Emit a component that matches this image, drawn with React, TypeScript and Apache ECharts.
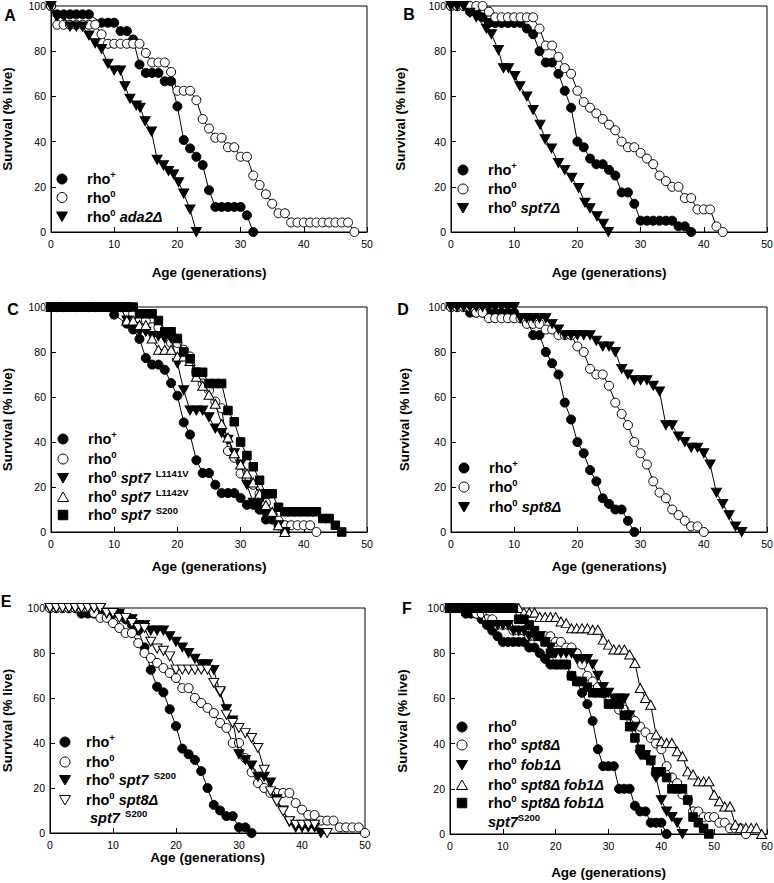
import React, { useEffect, useRef } from "react";
import * as echarts from "echarts";

const FONT = '"Liberation Sans", Arial, Helvetica, sans-serif';

// ---------- Panel A ----------
const aRhoPlus = [[0,100],[1,96.3],[2,96.3],[3,96.3],[4,96.3],[5,96.3],[6,96.3],[8,92.6],[9,92.6],[10,92.6],[11,88.9],[12,88.9],[13,85.2],[14,74.1],[15,70.4],[16,70.4],[17,70.4],[18,66.7],[19,66.7],[20,55.6],[21,40.7],[22,37],[23,33.3],[24,29.6],[25,18.5],[26,11.1],[27,11.1],[28,11.1],[29,11.1],[30,11.1],[31,7.4],[32,0]];
const aRho0 = [[0,100],[1,91.7],[2,91.7],[3,91.7],[4,91.7],[5,91.7],[6,91.7],[7,91.7],[8,87.5],[9,83.3],[10,83.3],[11,83.3],[12,83.3],[13,83.3],[14,83.3],[15,79.2],[16,75],[17,75],[18,75],[19,70.8],[20,62.5],[21,62.5],[22,62.5],[23,58.3],[24,50],[25,45.8],[26,41.7],[27,41.7],[28,37.5],[29,37.5],[30,33.3],[31,33.3],[32,25],[33,20.8],[34,16.7],[35,12.5],[36,8.3],[37,8.3],[38,4.2],[39,4.2],[40,4.2],[41,4.2],[42,4.2],[43,4.2],[44,4.2],[45,4.2],[46,4.2],[47,4.2],[48,0]];
const aAda2 = [[0,100],[1,95.5],[2,95.5],[3,90.9],[4,90.9],[5,90.9],[6,87],[7,83.5],[8,81],[9,74.5],[10,71.5],[11,71.5],[11.7,64.5],[12.5,59],[13.5,56],[14.1,55],[14.9,49],[15.9,44.5],[16.8,32],[17.8,29.5],[18.6,27],[19.4,25.5],[20.2,22],[21,17],[22,10],[23,0]];

// ---------- Panel B ----------
const bRhoPlus = [[0,100],[1,100],[2,100],[3,97.5],[4,97.5],[5,95],[6,92.5],[7,92.5],[8,92.5],[9,92.5],[10,92.5],[11,92.5],[12,90],[13,87.5],[14,80],[15,75],[16,75],[17,70],[18,62.5],[19,55],[20,40],[21,37.5],[22,32.5],[23,30],[24,30],[25,27.5],[26,25],[27,17.5],[28,17.5],[29,12.5],[30,5],[31,5],[32,5],[33,5],[34,5],[35,5],[36,2.5],[37,2.5],[38,0]];
const bRho0 = [[0,100],[1,100],[2,100],[3,100],[4,100],[5,100],[6,97.5],[7,95],[8,95],[9,95],[10,95],[11,95],[12,95],[13,95],[14,90],[15,82.5],[16,82.5],[17,77.5],[18,72.5],[19,70],[20,62.5],[21,57.5],[22,55],[23,52.5],[24,50],[25,47.5],[26,45],[27,40],[28,37.5],[29,37.5],[30,35],[31,32.5],[32,30],[33,25],[34,22.5],[35,20],[36,20],[37,15],[38,15],[39,10],[40,10],[41,10],[42,2.5],[43,0]];
const bSpt7 = [[0,100],[1,100],[2,100],[3,97],[4,95],[5.6,90],[6.4,87.5],[7.5,80.5],[8.3,72.5],[9.1,72.5],[10.1,69],[10.9,64.5],[12,60],[13,54],[14.1,47.5],[14.9,41],[15.9,37],[17,30.5],[18,27.5],[19.1,24],[20.2,19.5],[21.2,13],[22,10.5],[23.1,7],[24.1,3.7],[24.9,0]];

// ---------- Panel C ----------
const cRhoPlus = [[0,100],[1,100],[2,100],[3,100],[4,100],[5,100],[6,100],[7,100],[8,100],[9,100],[10,96.6],[12,92.6],[13,90],[14,85.8],[15,77.3],[16,74.4],[17,74.4],[18,72.1],[19,66.2],[20,60.6],[21,48.7],[22,43.3],[23,31.9],[24,26.2],[25,26.2],[26,21],[27,17.3],[28,17.3],[29,17.3],[30,15.1],[31,12.1],[32,12.1],[33,9.9],[34,5.5],[35,5.5],[36,3],[37,0]];
const cRho0 = [[0,100],[1,100],[2,100],[3,100],[4,100],[5,100],[6,100],[7,100],[8,100],[9,100],[10,100],[11,100],[12,100],[13,97],[14,94],[15,94],[16,91],[17,91],[18,88],[19,84],[20,84],[21,81],[22,78],[23,71],[24,66],[25,63],[26,58],[27,55],[28,36],[29,33],[30,26],[31,23],[32,21],[33,17],[34,13],[35,8],[36,5],[37,3],[38,3],[39,3],[40,3],[41,3],[42,0]];
const cL1141V = [[0,100],[1,100],[2,100],[3,100],[4,100],[5,100],[6,100],[7,100],[8,100],[9,100],[10,100],[11,100],[12,94],[13,91],[14,89],[15,89],[16,87],[17,87],[18,86],[19,86],[20,75],[21,63],[22,54],[23,54],[24,54],[25,51],[26,46],[27,44],[28,41],[29,35],[30,30],[31,21],[32,13],[33,13],[34,8],[35,6],[36,3],[37,0]];
const cL1142V = [[0,100],[1,100],[2,100],[3,100],[4,100],[5,100],[6,100],[7,100],[8,100],[9,100],[10,100],[11,100],[12,94],[13,94],[14,92],[15,92],[16,86],[17,81],[18,81],[19,81],[20,78],[21,78],[22,76],[23,69],[24,65],[25,61],[26,57],[27,48],[28,42],[29,35],[30,30],[31,26],[32,22],[33,17],[34,12],[35,9],[36,3],[37,0]];
const cS200 = [[0,100],[1,100],[2,100],[3,100],[4,100],[5,100],[6,100],[7,100],[8,100],[9,100],[10,100],[11,100],[12,100],[13,100],[14,97],[15,97],[16,97],[17,94],[18,89],[19,89],[20,86],[21,80],[22,77],[23,71],[24,71],[25,66],[26,66],[27,66],[28,54],[29,49],[30,40],[31,34],[32,29],[33,23],[34,17],[35,17],[36,11],[37,9],[38,9],[39,9],[40,9],[41,9],[42,9],[43,6],[44,6],[45,3],[46,0]];

// ---------- Panel D ----------
const dRhoPlus = [[0,100],[1,100],[2,100],[3,97.5],[4,97.5],[5,97.5],[6,97.5],[7,97.5],[8,97.5],[9,97.5],[10,97.5],[11,95],[12,95],[13,87.5],[14,87.5],[15,80],[16,75],[17,70],[18,57.5],[19,50],[20,40],[21,35],[22,27.5],[23,22.5],[24,15],[25,12.5],[26,10],[27,10],[28,5],[29,0]];
const dRho0 = [[0,100],[1,100],[2,100],[3,100],[4,97.5],[5,97.5],[6,95],[7,95],[8,95],[9,95],[10,95],[11,95],[12,92.5],[13,92.5],[14,92.5],[15,90],[16,90],[17,87.5],[18,87.5],[19,87.5],[20,82.5],[21,80],[22,72.5],[23,70],[24,70],[25,65],[26,57.5],[27,52.5],[28,47.5],[29,40],[30,35],[31,30],[32,22.5],[33,17.5],[34,15],[35,10],[36,7.5],[37,5],[38,2.5],[39,2.5],[40,0]];
const dSpt8 = [[0,100],[1,100],[2,100],[3,100],[4,100],[5,100],[6,100],[7,100],[8,100],[9,100],[10,100],[11,95],[12,95],[13,95],[14,95],[15,95],[16,92.5],[17,90],[18,87.5],[19,87.5],[20,87.5],[21,87.5],[22,87.5],[23,85],[24,82.5],[25,82.5],[26,80],[27,72.5],[28,70],[29,67.5],[30,67.5],[31,67.5],[32,65],[33,62.5],[34,47.5],[35,47.5],[36,42.5],[37,40],[38,37.5],[39,37.5],[40,35],[41,30],[42,17.5],[43,12.5],[44,7.5],[45,2.5],[46,0]];

// ---------- Panel E ----------
const eRhoPlus = [[0,100],[1,100],[2,100],[3,100],[4,100],[5,97.5],[6,97.5],[7,97.5],[8,97.5],[9,97.5],[10,97.5],[11,97.5],[12,95],[13,92.5],[14,90],[15,82.5],[16,72.5],[17,65],[18,62.5],[19,55],[20,47.5],[21,37.5],[22,35],[23,32.5],[24,27.5],[25,20],[26,12.5],[27,10],[28,7.5],[29,7.5],[30,2.5],[31,2.5],[32,0]];
const eRho0 = [[0,100],[1,100],[2,100],[3,100],[4,100],[5,100],[6,100],[7,97.8],[8,95.6],[9,95.6],[10,93.3],[11,91.1],[12,88.9],[13,88.9],[14,84.4],[15,80],[16,77.8],[17,75.6],[18,73.3],[19,71.1],[20,68.9],[21,64.4],[22,64.4],[23,60],[24,57.8],[25,55.6],[26,53.3],[27,48.9],[28,46.7],[29,40],[30,40],[31,33.3],[32,27],[33,22.2],[34,20],[35,17.8],[36,17.8],[37,17.8],[38,17.8],[39,13.3],[40,10.4],[41,8],[42,8],[43,5.5],[44,5.5],[45,5.5],[46,2.5],[47,2.5],[48,2.5],[49,2.5],[50,0]];
const eS200 = [[0,100],[1,100],[2,100],[3,100],[4,100],[5,100],[6,100],[7,100],[8,100],[9,97.5],[10,97.5],[11,97.5],[12,95],[13,95],[14,92.5],[15,92.5],[16,90],[17,90],[18,90],[19,87.5],[20,85],[21,82.5],[22,80],[23,77.5],[24,75],[25,75],[26,72.5],[27,62.5],[28,55],[29,50],[30,35],[31,32.5],[32,30],[33,25],[34,25],[35,22.5],[36,15],[37,10],[38,5],[39,2.5],[40,2.5],[41,2.5],[42,2.5],[43,0]];
const eSpt8S200 = [[0,100],[1,100],[2,100],[3,100],[4,100],[5,100],[6,100],[7,100],[8,100],[9,97.8],[10,97.8],[11,95.6],[12,95.6],[13,93.3],[14,91.1],[15,91.1],[16,85],[17,82],[18,81],[19,78.5],[20,72.6],[21,72.6],[22,72.6],[23,72.6],[24,72.6],[25,72.6],[26,66.7],[27,63],[28,52.6],[29,48.9],[30,46.7],[31,44.4],[32,42.2],[33,37.8],[34,28.1],[35,18.5],[36,14],[37,9.6],[38,5.2],[39,3.7],[40,3.7],[41,3.7],[42,3.7],[44,0]];

// ---------- Panel F ----------
const fRho0 = [[0,100],[1,100],[2,100],[3,97.5],[4,97.5],[5,97.5],[6,95],[7,92.5],[8,90],[9,87.5],[10,85],[11,85],[12,85],[13,85],[14,85],[15,82.5],[16,82.5],[17,80],[18,77.5],[19,75],[20,75],[21,75],[22,75],[23,70],[24,67.5],[25,62.5],[26,57.5],[27,50],[28,37.5],[29,30],[30,30],[31,30],[32,20],[33,20],[34,20],[35,12.5],[36,10],[37,10],[38,5],[39,5],[40,5],[41,0]];
const fSpt8 = [[0,100],[1,100],[2,100],[3,100],[4,100],[5,97.5],[6,97.5],[7,95],[8,95],[9,92.5],[10,92.5],[11,92.5],[12,90],[13,90],[14,90],[15,87.5],[16,87.5],[17,87.5],[18,87.5],[19,87.5],[20,85],[21,85],[22,82.5],[23,82.5],[24,80],[25,75],[26,70],[27,67.5],[28,65],[29,62.5],[30,60],[31,57.5],[32,55],[33,55],[34,52.5],[35,50],[36,47.5],[37,45],[38,42.5],[39,40],[40,37.5],[41,30],[42,25],[43,22.5],[44,17.5],[45,15],[46,10],[47,10],[48,7.5],[49,7.5],[50,7.5],[51,5],[52,5],[53,2.5],[54,2.5],[55,2.5],[56,0]];
const fFob1 = [[0,100],[1,100],[2,100],[3,100],[4,100],[5,100],[6,100],[7,92.5],[8,92.5],[9,92.5],[10,92.5],[11,92.5],[12,90],[13,90],[14,90],[15,87.5],[16,87.5],[17,87.5],[18,85],[19,82.5],[20,80],[21,80],[22,80],[23,80],[24,77.5],[25,77.5],[26,77.5],[27,75],[28,70],[29,65],[30,62.5],[31,60],[32,60],[33,60],[34,52.5],[35,47.5],[36,35],[37,35],[38,32.5],[39,25],[40,15],[41,10],[42,7.5],[43,5],[44,0]];
const fSpt8Fob1 = [[0,100],[1,100],[2,100],[3,100],[4,100],[5,100],[6,100],[7,100],[8,100],[9,100],[10,100],[11,100],[12,100],[13,100],[14,98],[15,98],[16,98],[17,96],[18,96],[19,96],[20,96],[21,94],[22,93.3],[23,91],[24,91],[25,91],[26,91],[27,90.4],[28,90.4],[29,86],[30,83.8],[31,81.6],[32,81.6],[33,81.6],[34,79.4],[35,75.7],[36,64.6],[37,60.2],[38,57.2],[39,44],[40,41],[41,40.3],[42,40.3],[43,36.6],[44,34.4],[45,27.7],[46,26.3],[47,23.3],[48,23.3],[49,23.3],[50,17.4],[51,14.5],[52,12.2],[53,12.2],[54,4.1],[55,2.7],[56,2.7],[57,2.7],[58,2.7],[59,0]];
const fTriple = [[0,100],[1,100],[2,100],[3,100],[4,100],[5,100],[6,100],[7,100],[8,100],[9,100],[10,100],[11,100],[12,100],[13,95],[14,95],[15,92.5],[16,90],[17,87.5],[18,85],[19,80],[20,75],[21,75],[22,75],[23,70],[24,67.5],[25,67.5],[26,65],[27,62.5],[28,62.5],[29,62.5],[30,57.5],[31,57.5],[32,57.5],[33,52.5],[34,47.5],[35,42.5],[36,37.5],[37,35],[38,32.5],[39,27.5],[40,27.5],[41,25],[42,20],[43,20],[44,20],[45,15],[46,7.5],[47,5],[48,2.5],[49,0]];

// ---------- Tick labels / legend labels ----------
const xTicksA = [0, 10, 20, 30, 40, 50];
const xTicksF = [0, 10, 20, 30, 40, 50, 60];
const yTicks = [0, 20, 40, 60, 80, 100];
const panelLetters = ["A", "B", "C", "D", "E", "F"];

type Mk = "fc" | "oc" | "ftd" | "otd" | "otu" | "fsq";

const panels = [
  {
    letter: "A", grid: [51, 6, 316, 226], xTicks: xTicksA, yGap: 37, xGap: 33,
    letterPos: [10, 15], symX: 62, txtX: 87, rowsY: [179, 197.5, 216.5],
    series: [
      { data: aRhoPlus, mk: "fc", label: "{n|rho}{s|+}" },
      { data: aRho0, mk: "oc", label: "{n|rho}{s|0}" },
      { data: aAda2, mk: "ftd", label: "{n|rho}{s|0}{n| }{i|ada2Δ}" },
    ],
  },
  {
    letter: "B", grid: [451, 6, 316, 226], xTicks: xTicksA, yGap: 44, xGap: 33,
    letterPos: [409, 14], symX: 463, txtX: 488, rowsY: [170, 189, 208],
    series: [
      { data: bRhoPlus, mk: "fc", label: "{n|rho}{s|+}" },
      { data: bRho0, mk: "oc", label: "{n|rho}{s|0}" },
      { data: bSpt7, mk: "ftd", label: "{n|rho}{s|0}{n| }{i|spt7Δ}" },
    ],
  },
  {
    letter: "C", grid: [51, 307, 316, 225], xTicks: xTicksA, yGap: 37, xGap: 27,
    letterPos: [13, 309], symX: 63, txtX: 88, rowsY: [439, 459, 478, 497, 515],
    series: [
      { data: cRhoPlus, mk: "fc", label: "{n|rho}{s|+}" },
      { data: cRho0, mk: "oc", label: "{n|rho}{s|0}" },
      { data: cL1141V, mk: "ftd", label: "{n|rho}{s|0}{n| }{i|spt7}{s|  L1141V}" },
      { data: cL1142V, mk: "otu", label: "{n|rho}{s|0}{n| }{i|spt7}{s|  L1142V}" },
      { data: cS200, mk: "fsq", label: "{n|rho}{s|0}{n| }{i|spt7}{s|  S200}" },
    ],
  },
  {
    letter: "D", grid: [451, 307, 316, 225], xTicks: xTicksA, yGap: 40, xGap: 27,
    letterPos: [403, 309], symX: 464, txtX: 489, rowsY: [468, 487, 507],
    series: [
      { data: dRhoPlus, mk: "fc", label: "{n|rho}{s|+}" },
      { data: dRho0, mk: "oc", label: "{n|rho}{s|0}" },
      { data: dSpt8, mk: "ftd", label: "{n|rho}{s|0}{n| }{i|spt8Δ}" },
    ],
  },
  {
    letter: "E", grid: [50, 608, 315, 225], xTicks: xTicksA, yGap: 36, xGap: 17,
    letterPos: [6, 601], symX: 65, txtX: 86, rowsY: [742, 762, 780, 800, 818],
    series: [
      { data: eRhoPlus, mk: "fc", label: "{n|rho}{s|+}" },
      { data: eRho0, mk: "oc", label: "{n|rho}{s|0}" },
      { data: eS200, mk: "ftd", label: "{n|rho}{s|0}{n| }{i|spt7}{s|  S200}" },
      { data: eSpt8S200, mk: "otd", label: "{n|rho}{s|0}{n| }{i|spt8Δ}" },
      { data: null, mk: null, label: "{i| spt7}{s|  S200}" },
    ],
  },
  {
    letter: "F", grid: [450, 608, 317, 226], xTicks: xTicksF, yGap: 41, xGap: 31,
    letterPos: [407, 608], symX: 462, txtX: 488, rowsY: [727, 745, 765, 785, 803, 822],
    series: [
      { data: fRho0, mk: "fc", label: "{n|rho}{s|0}" },
      { data: fSpt8, mk: "oc", label: "{n|rho}{s|0}{n| }{i|spt8Δ}" },
      { data: fFob1, mk: "ftd", label: "{n|rho}{s|0}{n| }{i|fob1Δ}" },
      { data: fSpt8Fob1, mk: "otu", label: "{n|rho}{s|0}{n| }{i|spt8Δ fob1Δ}" },
      { data: fTriple, mk: "fsq", label: "{n|rho}{s|0}{n| }{i|spt8Δ fob1Δ}" },
      { data: null, mk: null, label: "{i|spt7}{s|S200}" },
    ],
  },
];

function markerStyle(mk: Mk) {
  switch (mk) {
    case "fc": return { symbol: "circle", symbolSize: 9, symbolRotate: 0, fill: "#000" };
    case "oc": return { symbol: "circle", symbolSize: 9, symbolRotate: 0, fill: "#fff" };
    case "ftd": return { symbol: "triangle", symbolSize: [10, 9], symbolRotate: 180, fill: "#000" };
    case "otd": return { symbol: "triangle", symbolSize: [10, 9], symbolRotate: 180, fill: "#fff" };
    case "otu": return { symbol: "triangle", symbolSize: [10, 9], symbolRotate: 0, fill: "#fff" };
    case "fsq": return { symbol: "rect", symbolSize: 8.5, symbolRotate: 0, fill: "#000" };
  }
}

function legendSymbol(mk: Mk, cx: number, cy: number) {
  const fill = mk === "oc" || mk === "otd" || mk === "otu" ? "#fff" : "#000";
  const style = { fill, stroke: "#000", lineWidth: 1 };
  if (mk === "fc" || mk === "oc") {
    return { type: "circle", shape: { cx, cy, r: 5 }, style, z: 10 };
  }
  if (mk === "fsq") {
    return { type: "rect", shape: { x: cx - 4.75, y: cy - 4.75, width: 9.5, height: 9.5 }, style, z: 10 };
  }
  if (mk === "otu") {
    return { type: "polygon", shape: { points: [[cx - 5.5, cy + 4.5], [cx + 5.5, cy + 4.5], [cx, cy - 5]] }, style, z: 10 };
  }
  return { type: "polygon", shape: { points: [[cx - 5.5, cy - 4.5], [cx + 5.5, cy - 4.5], [cx, cy + 5]] }, style, z: 10 };
}

const richStyles = {
  n: { fontSize: 14.5, fontWeight: "bold", fontFamily: FONT, fill: "#000", lineHeight: 19 },
  i: { fontSize: 14.5, fontWeight: "bold", fontStyle: "italic", fontFamily: FONT, fill: "#000", lineHeight: 19 },
  s: { fontSize: 9.5, fontWeight: "bold", fontFamily: FONT, fill: "#000", lineHeight: 10, verticalAlign: "top" },
};

export default function App() {
  const ref = useRef<HTMLDivElement>(null);

  useEffect(() => {
    if (!ref.current) return;
    const chart = echarts.init(ref.current, null, { renderer: "svg" });

    const grids: any[] = [];
    const xAxes: any[] = [];
    const yAxes: any[] = [];
    const series: any[] = [];
    const graphics: any[] = [];

    panels.forEach((p, i) => {
      const [left, top, width, height] = p.grid;
      grids.push({
        left, top, width, height,
        show: true, borderColor: "#000", borderWidth: 1, backgroundColor: "transparent",
        containLabel: false, outerBoundsMode: "none",
      });
      const xMax = p.xTicks[p.xTicks.length - 1];
      xAxes.push({
        type: "value", gridIndex: i, min: 0, max: xMax, interval: 10,
        name: "Age (generations)", nameLocation: "middle", nameGap: p.xGap,
        nameTextStyle: { fontFamily: FONT, fontSize: 13.5, fontWeight: "bold", color: "#000" },
        axisLine: { show: true, lineStyle: { color: "#000", width: 1 } },
        axisTick: { show: true, inside: true, length: 5, lineStyle: { color: "#000" } },
        axisLabel: { fontFamily: FONT, fontSize: 10.5, color: "#000", margin: 6 },
        splitLine: { show: false },
      });
      yAxes.push({
        type: "value", gridIndex: i, min: yTicks[0], max: yTicks[yTicks.length - 1], interval: 20,
        name: "Survival (% live)", nameLocation: "middle", nameGap: p.yGap, nameRotate: 90,
        nameTextStyle: { fontFamily: FONT, fontSize: 13.5, fontWeight: "bold", color: "#000" },
        axisLine: { show: true, lineStyle: { color: "#000", width: 1 } },
        axisTick: { show: true, inside: true, length: 5, lineStyle: { color: "#000" } },
        axisLabel: { fontFamily: FONT, fontSize: 10.5, color: "#000", margin: 5 },
        splitLine: { show: false },
      });

      p.series.forEach((s: any, k: number) => {
        if (s.data) {
          const m = markerStyle(s.mk as Mk)!;
          series.push({
            type: "line", name: p.letter + "-" + k, xAxisIndex: i, yAxisIndex: i,
            data: s.data, symbol: m.symbol, symbolSize: m.symbolSize, symbolRotate: m.symbolRotate,
            showSymbol: true, showAllSymbol: true, silent: true, clip: false,
            lineStyle: { color: "#000", width: 1 },
            itemStyle: { color: m.fill, borderColor: "#000", borderWidth: 1, opacity: 1 },
            emphasis: { disabled: true },
            z: 2 + k,
          });
          graphics.push(legendSymbol(s.mk as Mk, p.symX, p.rowsY[k]));
        }
        graphics.push({
          type: "text", x: p.txtX, y: p.rowsY[k], z: 10,
          style: {
            text: s.label, rich: richStyles, fill: "#000",
            fontFamily: FONT, fontSize: 14.5, fontWeight: "bold",
            align: "left", verticalAlign: "middle",
          },
        });
      });

      graphics.push({
        type: "text", x: p.letterPos[0], y: p.letterPos[1], z: 10,
        style: {
          text: panelLetters[i], fill: "#000", fontFamily: FONT, fontSize: 16, fontWeight: "bold",
          align: "center", verticalAlign: "middle",
        },
      });
    });

    chart.setOption({
      animation: false,
      backgroundColor: "#fff",
      grid: grids,
      xAxis: xAxes,
      yAxis: yAxes,
      series,
      graphic: { elements: graphics },
    });

    return () => chart.dispose();
  }, []);

  return (
    <div
      ref={ref}
      style={{ position: "fixed", left: 0, top: 0, width: 774, height: 883, background: "#fff" }}
    />
  );
}
